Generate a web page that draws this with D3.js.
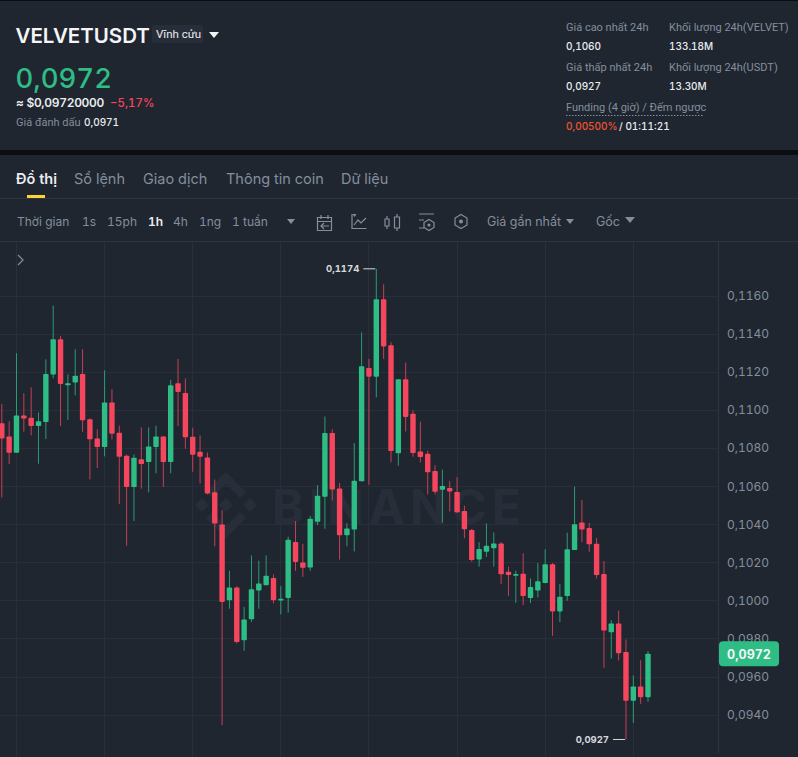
<!DOCTYPE html>
<html><head><meta charset="utf-8">
<style>html,body{margin:0;padding:0;background:#1f2630;overflow:hidden}svg{display:block;font-family:Inter,Roboto,sans-serif;font-variant-numeric:tabular-nums;font-feature-settings:"tnum" 1}</style>
<script src="https://cdn.jsdelivr.net/npm/d3@7/dist/d3.min.js"></script>
</head><body><div id="c"></div>
<script>
// Prices in units of 0.0001 USDT
const opens=[1093,1086,1077.5,1097,1095.9,1091.5,1093.6,1118.5,1137,1112.9,1114.4,1118.8,1095,1084.9,1080.5,1103.9,1088,1075.9,1059.5,1074,1072.6,1080.5,1086,1072.6,1113.9,1108.8,1085.9,1078,1075,1056.8,1039.8,1000.1,1006.8,979.1,990.1,1005.2,1008,1011.8,999.9,1001.3,1030.7,1019.9,1017.2,1041.2,1054.4,1087.8,1058.7,1034.2,1037.2,1062.5,1122,1117.4,1158,1133.9,1077.2,1116,1098,1078.1,1077,1067.9,1058.1,1059,1056.9,1046.9,1036.9,1021.5,1025.5,1027.3,1029.9,1015,1012.9,1014,1001.2,1005.2,1009.1,1018.9,994.2,1002.3,1026.4,1040.9,1038,1029.7,1013.8,983.3,987.9,972.9,947.3,954.8,949.2];
const closes=[1085,1077.5,1097,1095.4,1091.5,1094,1118.8,1137,1113.6,1113.9,1117.9,1094.5,1084.5,1080.5,1103.9,1087.5,1075.4,1059.5,1074.9,1071.6,1080.8,1086,1072.6,1112.9,1109.4,1085.6,1076.4,1075.4,1056.1,1040.3,999.2,1006.8,978.1,990,1005.9,1008.8,1012.9,1000.1,1000.8,1031.8,1020.2,1017.1,1042.8,1054.9,1087.8,1058.2,1034.2,1037.7,1062.8,1122.9,1117.4,1158,1133.3,1078.4,1116,1096.3,1077.3,1075.2,1067.2,1057,1060,1057.2,1046.2,1037.3,1021.2,1027,1028.7,1029.9,1013.7,1013.3,1013.8,1002.3,1007,1010,1018.9,994.2,1001.9,1026.8,1039.9,1037.2,1029.4,1013.3,984.2,987.9,972.3,947.3,954.8,949.2,972];
const highs=[1103,1094,1129.7,1108.7,1111.8,1098.7,1126.5,1154.7,1138.8,1118.6,1131.8,1131.8,1095.5,1089.8,1120.7,1110.8,1091.7,1076.5,1076.6,1090.8,1090.8,1091.7,1086.1,1115.7,1126.7,1116.5,1090.6,1086.6,1077.6,1063.4,1047.4,1015.5,1007.4,996.6,1023.6,1020.8,1023.6,1013.6,1007.6,1033.4,1041.6,1029.7,1044.4,1060.5,1096.5,1089.7,1061.7,1040.5,1082.5,1140.7,1126.7,1174,1165.9,1135.5,1116.2,1124.8,1099.7,1093.8,1078.6,1070.9,1068.6,1062.6,1064.7,1049.7,1037.5,1030.5,1040.4,1035.7,1030.5,1017.7,1015.6,1024.7,1011.5,1019.6,1026.7,1019.6,1008.6,1035.5,1059.7,1052.7,1040.7,1032.7,1020.6,989.6,994.6,979.5,960.6,968.6,973.4];
const lows=[1054,1071.6,1077.5,1088.5,1086.6,1071.7,1084.7,1116.5,1091.5,1094.7,1107.6,1088.5,1063.5,1069.5,1075.6,1084.5,1050.6,1028.7,1041.6,1058.6,1056.7,1066.7,1059.5,1066.7,1091.5,1079.6,1067.5,1061.4,1055.6,1028.4,934.5,995.6,977.4,973.5,988.6,995.6,1008,998.4,992.6,993.6,1015.5,1012.3,1015.5,1039.5,1037.6,1052.4,1021.4,1028.4,1025.7,1062.5,1060.6,1106.6,1126.7,1072.4,1070.7,1088.6,1075.4,1072.4,1055.6,1055.6,1040.8,1046.7,1045.9,1032.6,1020.3,1017.7,1022.8,1017.7,1008.6,1002.4,998.7,997.5,998.6,1001.5,1009,981.4,988.6,999.8,1026.4,1030.6,1025.5,1011.5,964.6,969.5,968.5,927,935.7,945.7,946.8];
const tickValues=[1160,1140,1120,1100,1080,1060,1040,1020,1000,980,960,940];
const tickLabels=["0,1160","0,1140","0,1120","0,1100","0,1080","0,1060","0,1040","0,1020","0,1000","0,0980","0,0960","0,0940"];
const timeGridIndex=[2,14,26,38,50,62,74,86];
const tabs=["Đồ thị","Sổ lệnh","Giao dịch","Thông tin coin","Dữ liệu"];
const intervals=["Thời gian","1s","15ph","1h","4h","1ng","1 tuần"];

const W=798,H=757;
const GREEN="#2ebd85",RED="#f6465d",GREY="#848e9c",WHITE="#eaecef",BG="#1f2630",LINE="#2e3540",GRID="#282f3a";
const ROBOTO="Roboto,sans-serif";
const svg=d3.select("#c").append("svg").attr("width",W).attr("height",H).attr("viewBox",`0 0 ${W} ${H}`);
svg.append("rect").attr("width",W).attr("height",H).attr("fill",BG);
function T(x,y,s,o={}){return svg.append("text").attr("x",x).attr("y",y).text(s)
 .attr("font-size",o.size||12).attr("fill",o.fill||GREY).attr("font-weight",o.weight||400)
 .attr("text-anchor",o.anchor||"start").attr("font-family",o.family||null).attr("letter-spacing",o.ls||null);}
function tri(cx,y,w,h,fill){svg.append("path").attr("d",`M${cx-w/2},${y}L${cx+w/2},${y}L${cx},${y+h}Z`).attr("fill",fill);}

// frame bands
svg.append("rect").attr("width",W).attr("height",1).attr("fill","#0b0e11");
svg.append("rect").attr("y",150).attr("width",W).attr("height",5).attr("fill","#0b0e11");
svg.append("rect").attr("y",198).attr("width",W).attr("height",1).attr("fill",LINE);
svg.append("rect").attr("y",241).attr("width",W).attr("height",1).attr("fill",LINE);

// header left
T(15.5,43,"VELVETUSDT",{size:20.5,weight:600,fill:"#f4f5f7"});
svg.append("rect").attr("x",152).attr("y",25).attr("width",51).attr("height",18).attr("rx",2).attr("fill","#272e39");
T(156,38,"Vĩnh cửu",{size:11.5,fill:WHITE,family:ROBOTO});
tri(214,32,10,6,"#f4f5f7");
T(15.5,88,"0,0972",{size:27.5,weight:500,fill:GREEN});
T(16,107,"≈ $0,09720000",{size:12,weight:600,fill:WHITE,ls:-0.3});
T(110,107,"−5,17%",{size:11.5,weight:500,fill:RED});
T(16,126,"Giá đánh dấu",{size:11,fill:GREY,family:ROBOTO});
T(84,126,"0,0971",{size:10,fill:WHITE,weight:500});

// header right
const small={size:11,family:ROBOTO};
const val={size:10,fill:WHITE,weight:500};
T(566,31,"Giá cao nhất 24h",small);
T(566,50,"0,1060",val);
T(566,71,"Giá thấp nhất 24h",small);
T(566,90,"0,0927",val);
T(669,31,"Khối lượng 24h(VELVET)",small);
T(669,50,"133.18M",val);
T(669,71,"Khối lượng 24h(USDT)",small);
T(669,90,"13.30M",val);
T(566,111,"Funding (4 giờ) / Đếm ngược",small);
svg.append("line").attr("x1",566).attr("x2",704).attr("y1",115.5).attr("y2",115.5).attr("stroke",GREY).attr("stroke-dasharray","1.5 1.5");
T(566,130,"0,00500%",{size:10,fill:"#f0522f",weight:500});
T(619,130,"/ 01:11:21",{size:10,fill:WHITE,weight:500});

// tabs
const tabX=[16,74,143,226,341];
tabs.forEach((t,i)=>T(tabX[i],184,t,{size:14.5,weight:i?400:600,fill:i?GREY:WHITE}));
svg.append("rect").attr("x",27).attr("y",195).attr("width",18).attr("height",3).attr("fill","#fcd535");

// toolbar
const intX=[17,82,107,148,173,199,232];
intervals.forEach((t,i)=>T(intX[i],226,t,{size:12,weight:t==="1h"?600:400,fill:t==="1h"?WHITE:GREY}));
tri(291,219,8,5,GREY);
T(487,226,"Giá gần nhất",{size:12.5}); tri(570,219,8,5,GREY);
T(596,226,"Gốc",{size:12.5}); tri(630,217,10,6,GREY);
const iconPaths=[
 "M317.5,217.5h14v13h-14zM317.5,221.5h14M321,215v4M328,215v4M329,226h-8M324,223l-3,3l3,3",
 "M352,214v14.5h14.5M354,225l4,-5l3,3l5,-5",
 "M387,216v3M387,226v3M397,214v3M397,228v3M385,219h4v7h-4zM394.5,217h5v11h-5z",
 "M419,214h15M419,220h5M419,228h5",
 "M429,219.5l5,3v5l-5,3l-5,-3v-5zM461,214.5l6,3.5v7l-6,3.5l-6,-3.5v-7z"];
iconPaths.forEach(d=>svg.append("path").attr("d",d).attr("fill","none").attr("stroke",GREY).attr("stroke-width",1.2));
svg.append("path").attr("d","M352.5,214l4,0l-2,3z").attr("fill",GREY);
svg.append("circle").attr("cx",429).attr("cy",225).attr("r",1.6).attr("fill",GREY);
svg.append("circle").attr("cx",461).attr("cy",221.5).attr("r",2).attr("fill",GREY);

// scales
const x=d3.scaleLinear().domain([0,88]).range([1.8,648]);
const y=d3.scaleLinear().domain([940,1160]).range([714.7,295.5]);

// grid
const plot=svg.append("g");
plot.selectAll("line.h").data(tickValues).join("line").attr("class","h")
 .attr("x1",0).attr("x2",718).attr("y1",d=>Math.round(y(d))+.5).attr("y2",d=>Math.round(y(d))+.5).attr("stroke",GRID);
plot.selectAll("line.v").data(timeGridIndex).join("line").attr("class","v")
 .attr("x1",d=>Math.floor(x(d))+.5).attr("x2",d=>Math.floor(x(d))+.5).attr("y1",242).attr("y2",H).attr("stroke",GRID);

// watermark
const wm=svg.append("g").attr("fill","#272e39");
const diamonds=[[226,505,7],[202,505,7],[250,505,7]];
wm.selectAll("path.d").data(diamonds).join("path").attr("class","d")
 .attr("d",d=>`M${d[0]-d[2]},${d[1]}L${d[0]},${d[1]-d[2]}L${d[0]+d[2]},${d[1]}L${d[0]},${d[1]+d[2]}Z`);
wm.append("path").attr("d","M226,472L246,492L240,498L226,484L212,498L206,492ZM226,538L246,518L240,512L226,526L212,512L206,518Z");
wm.append("text").attr("x",272).attr("y",524).text("BINANCE").attr("font-size",48).attr("font-weight",700).attr("letter-spacing",5).attr("font-family","Inter,Roboto,sans-serif");

// candles
const idx=d3.range(opens.length);
const col=i=>closes[i]>=opens[i]?GREEN:RED;
const g=svg.append("g");
g.selectAll("line.w").data(idx).join("line").attr("class","w")
 .attr("x1",i=>x(i)).attr("x2",i=>x(i)).attr("y1",i=>y(highs[i])).attr("y2",i=>y(lows[i]))
 .attr("stroke",col).attr("stroke-width",1).attr("stroke-opacity",.78);
g.selectAll("rect.b").data(idx).join("rect").attr("class","b")
 .attr("x",i=>x(i)-2.7).attr("width",5.4)
 .attr("y",i=>y(Math.max(opens[i],closes[i])))
 .attr("height",i=>Math.max(1.5,Math.abs(y(opens[i])-y(closes[i]))))
 .attr("rx",.8).attr("fill",col);

// axis
svg.append("line").attr("x1",718.5).attr("x2",718.5).attr("y1",242).attr("y2",753).attr("stroke",LINE);
svg.selectAll("text.tick").data(tickValues).join("text").attr("class","tick")
 .attr("x",727).attr("y",d=>y(d)+4.5).text((d,i)=>tickLabels[i]).attr("font-size",12).attr("fill",GREY);

// chevron
svg.append("path").attr("d","M18,255l5,5l-5,5").attr("fill","none").attr("stroke",GREY).attr("stroke-width",1.2);

// high / low annotations
const hi=idx.find(i=>highs[i]===d3.max(highs)), lo=idx.find(i=>lows[i]===d3.min(lows));
[[hi,highs[hi],"0,1174"],[lo,lows[lo],"0,0927"]].forEach(([i,v,s])=>{
 const px=x(i),py=y(v);
 svg.append("line").attr("x1",px-13).attr("x2",px-1).attr("y1",py).attr("y2",py).attr("stroke","#d5d8dc");
 T(px-17,py+3.5,s,{size:9.5,weight:700,fill:"#d5d8dc",anchor:"end"});
});

// last price tag
const last=closes[closes.length-1];
svg.append("rect").attr("x",719).attr("y",y(last)-12.5).attr("width",60).attr("height",25).attr("rx",4).attr("fill",GREEN);
T(749,y(last)+5,"0,0972",{size:12.5,weight:700,fill:"#f4f5f7",anchor:"middle"});
</script></body></html>
